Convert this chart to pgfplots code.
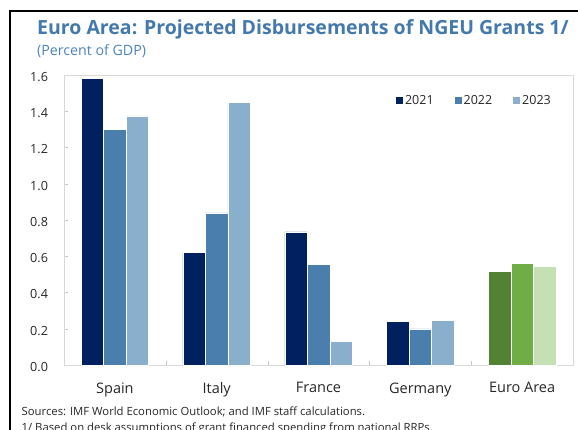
\documentclass[border=0pt]{standalone}
\usepackage{fontspec}
\setmainfont{Open Sans}
\usepackage{pgfplots}
\pgfplotsset{compat=1.18}
\definecolor{cA}{HTML}{002060}
\definecolor{cB}{HTML}{4A7EAD}
\definecolor{cC}{HTML}{8AAFCD}
\definecolor{gA}{HTML}{548235}
\definecolor{gB}{HTML}{70AD47}
\definecolor{gC}{HTML}{C5E0B4}
\definecolor{titleblue}{HTML}{4479AE}
\definecolor{subblue}{HTML}{4A84BC}
\definecolor{axgray}{HTML}{D9D9D9}
\definecolor{txt}{HTML}{262626}
\begin{document}
\begin{tikzpicture}[x=1pt,y=1pt]
\useasboundingbox (0,0) rectangle (578,429);
\draw[line width=2pt,black] (10,-20) -- (10,418) -- (600,418);
\node[anchor=base west,inner sep=0pt,text=titleblue,font=\fontsize{19.5}{22}\selectfont\bfseries] at (37,394) {Euro Area: Projected Disbursements of NGEU Grants 1/};
\node[anchor=base west,inner sep=0pt,text=subblue,font=\fontsize{14.2}{16}\selectfont] at (37,373) {(Percent of GDP)};
\node[anchor=base west,inner sep=0pt,text=txt,font=\fontsize{11.3}{13}\selectfont] at (21.5,14) {Sources: IMF World Economic Outlook; and IMF staff calculations.};
\node[anchor=base west,inner sep=0pt,text=txt,font=\fontsize{11.3}{13}\selectfont] at (21.5,-2.7) {1/ Based on desk assumptions of grant financed spending from national RRPs.};
\begin{axis}[
  at={(64pt,64pt)}, anchor=south west,
  scale only axis, width=509pt, height=290pt,
  xmin=-0.5, xmax=4.5, ymin=0, ymax=1.6,
  ybar=0pt, bar width=22.5pt,
  axis line style={axgray},
  xtick={0,1,2,3,4},
  xticklabels={Spain,Italy,France,Germany,Euro Area},
  minor xtick={0.5,1.5,2.5,3.5},
  major x tick style={draw=none},
  minor x tick style={axgray!80!gray},
  minor tick length=4pt,
  ytick={0,0.2,...,1.6},
  y tick style={axgray!80!gray},
  major tick length=4pt,
  tick align=inside,
  tick pos=left,
  yticklabel style={font=\fontsize{12.6}{14}\selectfont, text=txt, xshift=-12.5pt, yshift=-2pt},
  xticklabel style={font=\fontsize{14.5}{16}\selectfont, text=txt, yshift=-14pt},
  y tick label style={/pgf/number format/.cd, fixed, fixed zerofill, precision=1},
  /pgf/number format/assume math mode=true,
  legend style={at={(0.652,0.911)}, anchor=west, draw=none, fill=none,
    font=\fontsize{12.5}{14}\selectfont, text=txt, inner sep=0pt,
    /tikz/every even column/.append style={column sep=19pt}},
  legend columns=3,
  legend image code/.code={\path[#1,draw=none] (0pt,-3.5pt) rectangle (7pt,3.5pt);},
  every axis plot/.append style={draw=white, line width=0.4pt},
]
\addplot[fill=cA, bar shift=-22.5pt] coordinates {(0,1.58) (1,0.62) (2,0.735) (3,0.24)};
\addplot[fill=cB, bar shift=0pt] coordinates {(0,1.30) (1,0.84) (2,0.557) (3,0.20)};
\addplot[fill=cC, bar shift=22.5pt] coordinates {(0,1.375) (1,1.45) (2,0.132) (3,0.248)};
\legend{2021,2022,2023}
\addplot[fill=gA, bar shift=-22.5pt, forget plot] coordinates {(4,0.515)};
\addplot[fill=gB, bar shift=0pt, forget plot] coordinates {(4,0.561)};
\addplot[fill=gC, bar shift=22.5pt, forget plot] coordinates {(4,0.546)};
\end{axis}
\end{tikzpicture}
\end{document}
